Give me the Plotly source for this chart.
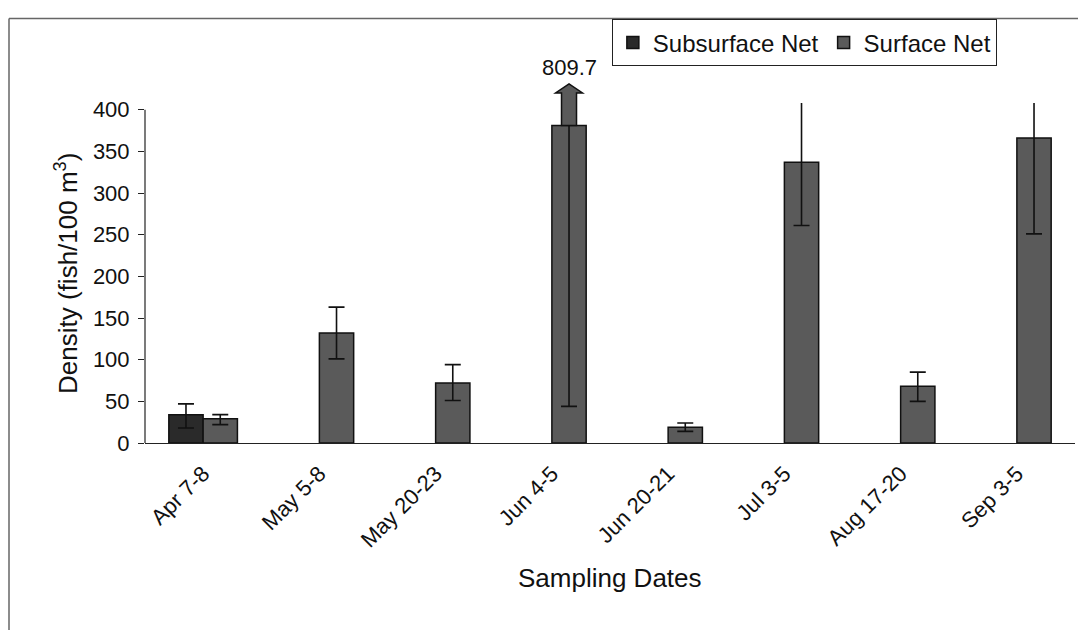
import plotly.graph_objects as go

categories = ["Apr 7-8", "May 5-8", "May 20-23", "Jun 4-5", "Jun 20-21", "Jul 3-5", "Aug 17-20", "Sep 3-5"]
subsurface = [34, None, None, None, None, None, None, None]
subsurface_err_plus = [13, 0, 0, 0, 0, 0, 0, 0]
subsurface_err_minus = [16, 0, 0, 0, 0, 0, 0, 0]
surface = [29, 132, 72, 381, 19, 337, 68, 366]
surface_err_plus = [5, 31, 22, 428.7, 5, 76, 17, 115]
surface_err_minus = [7, 31, 21, 337, 5, 76, 18, 115]
off_scale_label = "809.7"
off_scale_index = 3
arrow_head_base = 420
arrow_tip = 431

Y_MAX = 408
BARGAP = 0.41
FONT = "Liberation Sans, Arial, sans-serif"

fig = go.Figure()
fig.add_trace(go.Bar(
    name="Subsurface Net", x=categories, y=subsurface,
    marker=dict(color="#2a2a2a", line=dict(color="#111", width=1.5)),
    error_y=dict(type="data", symmetric=False, array=subsurface_err_plus,
                 arrayminus=subsurface_err_minus, color="#111", thickness=1.6, width=8),
))
fig.add_trace(go.Bar(
    name="Surface Net", x=categories, y=surface,
    marker=dict(color="#5a5a5a", line=dict(color="#111", width=1.5)),
    error_y=dict(type="data", symmetric=False, array=surface_err_plus,
                 arrayminus=surface_err_minus, color="#111", thickness=1.6, width=8),
))

n = len(categories)
bar_off = (1 - BARGAP) / 4
xc = (off_scale_index + bar_off + 0.5) / n
plot_w = 930.0
plot_h = 346.0
ML, MT = 137, 89
sh = 7.5 / plot_w
hh = 13.5 / plot_w
y0 = surface[off_scale_index] / Y_MAX
yb = arrow_head_base / Y_MAX
yt = arrow_tip / Y_MAX
path = (f"M {xc-sh},{y0} L {xc-sh},{yb} L {xc-hh},{yb} L {xc},{yt} "
        f"L {xc+hh},{yb} L {xc+sh},{yb} L {xc+sh},{y0} Z")

frame_x = (1 - ML) / plot_w
frame_y = 1 + (MT - 3) / plot_h

shapes = [
    dict(type="path", xref="paper", yref="paper", path=path,
         fillcolor="#5a5a5a", line=dict(color="#111", width=1.5), layer="above"),
    dict(type="line", xref="paper", yref="paper", x0=0, x1=0, y0=0, y1=400 / Y_MAX,
         line=dict(color="#222", width=1.2)),
    dict(type="line", xref="paper", yref="paper", x0=frame_x, x1=1.02, y0=frame_y, y1=frame_y,
         line=dict(color="#666", width=1.5)),
    dict(type="line", xref="paper", yref="paper", x0=frame_x, x1=frame_x, y0=frame_y, y1=-0.6,
         line=dict(color="#666", width=1.5)),
]

annotations = [
    dict(text=off_scale_label, xref="paper", yref="paper", x=xc, y=yt + 2 / plot_h,
         xanchor="center", yanchor="bottom", showarrow=False,
         font=dict(size=22, color="#111", family=FONT)),
    dict(text="Sampling Dates", xref="paper", yref="paper", x=0.5, y=-137 / plot_h,
         xanchor="center", yanchor="middle", showarrow=False,
         font=dict(size=26, color="#111", family=FONT)),
    dict(text="Density (fish/100 m<sup>3</sup>)", xref="paper", yref="paper",
         x=-0.085, y=0.5, textangle=-90, xanchor="center", yanchor="middle",
         showarrow=False, font=dict(size=26, color="#111", family=FONT)),
]

# the page body adds an 8px offset, so the figure is sized/margined to compensate
fig.update_layout(
    width=1078, height=622,
    margin=dict(l=ML, r=11, t=MT, b=187),
    paper_bgcolor="white", plot_bgcolor="white",
    font=dict(family=FONT, color="#111", size=22),
    barmode="group", bargap=BARGAP, bargroupgap=0,
    showlegend=True,
    legend=dict(orientation="h", x=0.502, y=1.2456, xanchor="left", yanchor="top",
                bordercolor="#222", borderwidth=1, bgcolor="white",
                font=dict(size=24, family=FONT, color="#111"),
                itemwidth=30, traceorder="normal"),
    xaxis=dict(showline=True, linecolor="#222", linewidth=1.2, ticks="",
               tickangle=-45, tickfont=dict(size=22), showgrid=False,
               ticklabelstandoff=8, range=[-0.5, n - 0.5]),
    yaxis=dict(range=[0, Y_MAX], tickvals=[0, 50, 100, 150, 200, 250, 300, 350, 400],
               showline=False, ticks="outside", ticklen=6, tickcolor="#222",
               tickwidth=1.2, showgrid=False, zeroline=False,
               tickfont=dict(size=22), ticklabelstandoff=4),
    shapes=shapes, annotations=annotations,
)

fig.write_html("out.html", config={"displayModeBar": False})
